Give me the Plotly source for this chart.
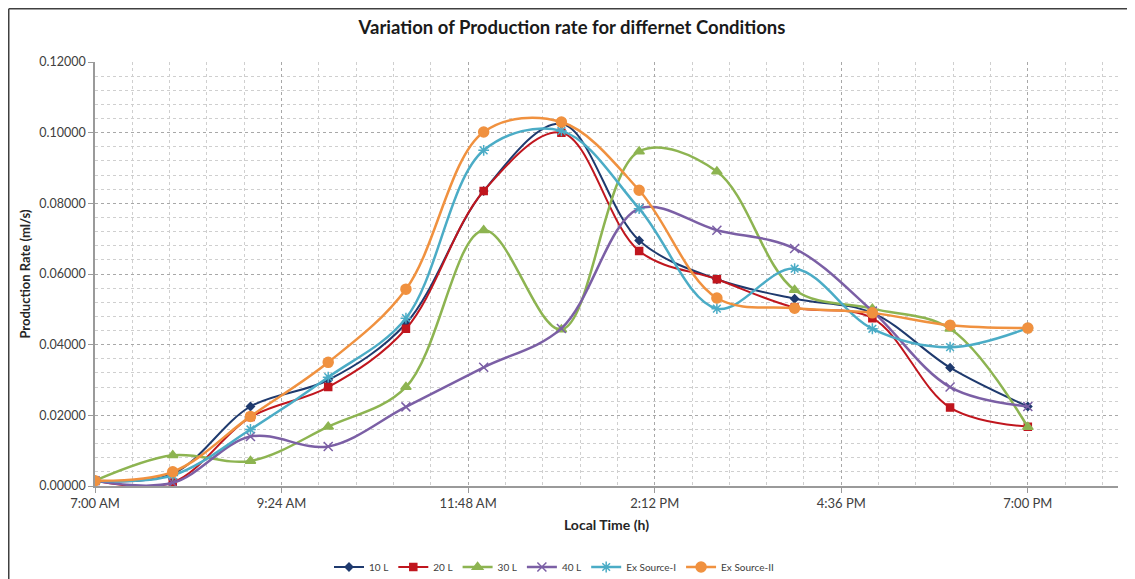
import plotly.graph_objects as go

# ---- data ----
times = ["2024-01-01 07:00", "2024-01-01 08:00", "2024-01-01 09:00", "2024-01-01 10:00",
         "2024-01-01 11:00", "2024-01-01 12:00", "2024-01-01 13:00", "2024-01-01 14:00",
         "2024-01-01 15:00", "2024-01-01 16:00", "2024-01-01 17:00", "2024-01-01 18:00",
         "2024-01-01 19:00"]

v_10L = [0.0015, 0.0035, 0.0225, 0.0300, 0.0460, 0.0835, 0.1025, 0.0695, 0.0585, 0.0530, 0.0490, 0.0335, 0.0225]
v_20L = [0.0015, 0.0010, 0.0195, 0.0280, 0.0445, 0.0835, 0.1000, 0.0665, 0.0585, 0.0505, 0.0475, 0.0222, 0.0168]
v_30L = [0.0015, 0.0087, 0.0071, 0.0168, 0.0280, 0.0724, 0.0443, 0.0947, 0.0890, 0.0555, 0.0502, 0.0445, 0.0167]
v_40L = [0.0015, 0.0009, 0.0140, 0.0112, 0.0224, 0.0336, 0.0446, 0.0785, 0.0724, 0.0672, 0.0495, 0.0280, 0.0225]
v_exI = [0.0015, 0.0030, 0.0160, 0.0308, 0.0475, 0.0950, 0.1005, 0.0785, 0.0502, 0.0615, 0.0445, 0.0393, 0.0447]
v_exII = [0.0015, 0.0040, 0.0197, 0.0350, 0.0557, 0.1002, 0.1030, 0.0837, 0.0532, 0.0503, 0.0490, 0.0455, 0.0447]

series_names = ["10 L", "20 L", "30 L", "40 L", "Ex Source-I", "Ex Source-II"]
series_values = [v_10L, v_20L, v_30L, v_40L, v_exI, v_exII]

x_tickvals = ["2024-01-01 07:00", "2024-01-01 09:24", "2024-01-01 11:48",
              "2024-01-01 14:12", "2024-01-01 16:36", "2024-01-01 19:00"]
x_ticktext = ["7:00 AM", "9:24 AM", "11:48 AM", "2:12 PM", "4:36 PM", "7:00 PM"]

# ---- styles ----
colors = ["#1F3A6E", "#C0161E", "#8DB451", "#7B5FA5", "#4BACC6", "#F0913F"]
symbols = ["diamond", "square", "triangle-up", "x-thin-open", "asterisk-open", "circle"]
msizes = [6, 7, 9, 9, 9, 10]
lwidths = [2, 2, 2.5, 2.5, 2.5, 2.5]

FONT = "Lato, 'Open Sans', sans-serif"

# plot area in figure coordinates (page is offset by body margin)
L, R, T, B = 87, 1110, 54, 478
W, H = 1135, 579

fig = go.Figure()
for name, vals, c, s, ms, lw in zip(series_names, series_values, colors, symbols, msizes, lwidths):
    fig.add_trace(go.Scatter(
        x=times, y=vals, name=name, mode="lines+markers",
        line=dict(color=c, width=lw, shape="spline", smoothing=1.0),
        marker=dict(symbol=s, size=ms, color=c, line=dict(color=c, width=1.5)),
    ))

fig.update_layout(
    width=W, height=H,
    margin=dict(l=L, r=W - R, t=T, b=H - B, autoexpand=False),
    paper_bgcolor="white", plot_bgcolor="white",
    font=dict(family=FONT, color="#404040", size=12),
    title=dict(text="<b>Variation of Production rate for differnet Conditions</b>",
               x=564 / W, xanchor="center", xref="container",
               y=1 - 20 / H, yanchor="middle", yref="container",
               font=dict(family=FONT, size=18.5, color="#1a1a1a")),
    showlegend=True,
    legend=dict(orientation="h", xref="container", yref="container",
                x=546 / W, xanchor="center", y=1 - 559 / H, yanchor="middle",
                itemwidth=30,
                font=dict(family=FONT, size=10, color="#404040"),
                bgcolor="rgba(0,0,0,0)"),
    xaxis=dict(
        type="date", automargin=False,
        range=["2024-01-01 07:00", "2024-01-01 20:09:36"],
        tickvals=x_tickvals, ticktext=x_ticktext,
        ticks="outside", ticklen=5, tickcolor="#9a9a9a",
        showline=True, linecolor="#9a9a9a", linewidth=1.5,
        showgrid=True, gridcolor="#a8a8a8", griddash="dot", gridwidth=1,
        minor=dict(dtick=1728000, tick0="2024-01-01 07:00", showgrid=True,
                   gridcolor="#cfcfcf", griddash="dot", gridwidth=1),
        tickfont=dict(family=FONT, size=13, color="#404040"),
        title=dict(text="<b>Local Time (h)</b>", standoff=10,
                   font=dict(family=FONT, size=14, color="#262626")),
        zeroline=False,
    ),
    yaxis=dict(
        range=[0, 0.12], dtick=0.02, tick0=0, tickformat=".5f", automargin=False,
        ticks="outside", ticklen=5, tickcolor="#9a9a9a",
        showline=True, linecolor="#9a9a9a", linewidth=1.5,
        showgrid=True, gridcolor="#a8a8a8", griddash="dot", gridwidth=1,
        minor=dict(dtick=0.004, showgrid=True, gridcolor="#cfcfcf",
                   griddash="dot", gridwidth=1),
        tickfont=dict(family=FONT, size=12.5, color="#404040"),
        title=dict(text="<b>Production Rate (ml/s)</b>", standoff=6,
                   font=dict(family=FONT, size=13, color="#262626")),
        zeroline=False,
    ),
)

# chart outer frame (left and top edges visible in reference)
fx = (0.75 - L) / (R - L)
fy = (B - 0.75) / (B - T)
fig.add_shape(type="line", xref="paper", yref="paper",
              x0=fx, x1=fx, y0=-0.4, y1=fy,
              line=dict(color="#404040", width=1.5))
fig.add_shape(type="line", xref="paper", yref="paper",
              x0=fx, x1=1.1, y0=fy, y1=fy,
              line=dict(color="#404040", width=1.5))

fig.write_html("out.html")
